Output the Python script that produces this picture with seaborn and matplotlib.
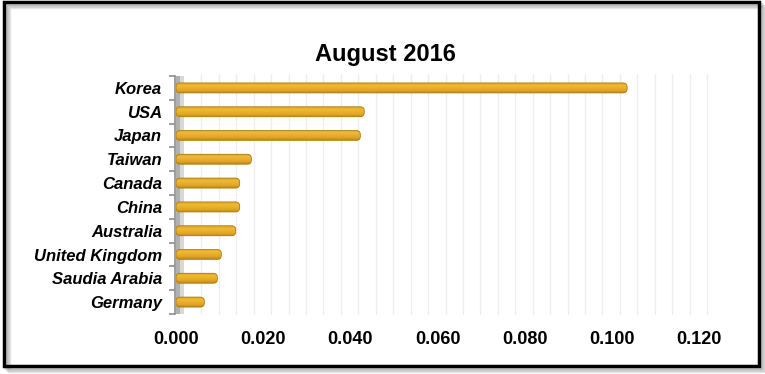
import numpy as np
import pandas as pd
import matplotlib
matplotlib.use("Agg")
import matplotlib.pyplot as plt
import matplotlib.transforms as mtransforms
from matplotlib.patches import Rectangle, FancyBboxPatch
import seaborn as sns

# ---- data ----
countries = ["Korea", "USA", "Japan", "Taiwan", "Canada", "China",
             "Australia", "United Kingdom", "Saudia Arabia", "Germany"]
values = [0.1035, 0.0432, 0.0423, 0.0173, 0.0146, 0.0146,
          0.0137, 0.0104, 0.0095, 0.0065]
x_ticks = [0.000, 0.020, 0.040, 0.060, 0.080, 0.100, 0.120]
x_tick_labels = ["0.000", "0.020", "0.040", "0.060", "0.080", "0.100", "0.120"]
title = "August 2016"

df = pd.DataFrame({"country": countries, "value": values})

sns.set_theme(style="white")
plt.rcParams["font.family"] = ["Liberation Sans", "DejaVu Sans"]

W, H = 765, 374
fig = plt.figure(figsize=(W / 100, H / 100), dpi=100)
fig.patch.set_facecolor("white")

# axes placement in pixels
ax_left, ax_right = 176, 699
ax_top, ax_bottom = 76, 314
ax_w_px, ax_h_px = ax_right - ax_left, ax_bottom - ax_top
ax = fig.add_axes([ax_left / W, 1 - ax_bottom / H, ax_w_px / W, ax_h_px / H])
ax.set_facecolor("white")

sns.barplot(data=df, x="value", y="country", orient="h", color="#E3AB28",
            width=0.42, ax=ax, zorder=3, linewidth=0)

ax.set_xlim(x_ticks[0], x_ticks[-1])
ylim = ax.get_ylim()

# bar shading: gradient, rounded caps
grad_colors = np.array([
    [0.86, 0.64, 0.14],
    [0.94, 0.73, 0.21],
    [0.91, 0.69, 0.17],
    [0.88, 0.65, 0.14],
    [0.74, 0.53, 0.09],
])
n = 40
t = np.linspace(0, 1, n)
idx = np.arange(len(grad_colors))
img = np.stack([np.interp(t * (len(grad_colors) - 1), idx, grad_colors[:, c]) for c in range(3)], axis=-1)
img = img[:, None, :]
x_per_px = (x_ticks[-1] - x_ticks[0]) / ax_w_px
y_per_px = abs(ylim[0] - ylim[1]) / ax_h_px
asp = y_per_px / x_per_px
for p in list(ax.patches):
    x0, y0, w, h = p.get_x(), p.get_y(), p.get_width(), p.get_height()
    shape = FancyBboxPatch((x0, y0), w, h,
                           boxstyle=f"round,pad=0,rounding_size={4.2 * x_per_px}",
                           mutation_aspect=asp, transform=ax.transData,
                           facecolor="none", edgecolor="#B07F12", lw=0.6, zorder=5)
    ax.add_patch(shape)
    p.set_clip_path(shape)
    im = ax.imshow(img, extent=(x0, x0 + w, y0 + h, y0), origin="upper",
                   aspect="auto", zorder=4, interpolation="bilinear")
    im.set_clip_path(shape)
ax.set_ylim(ylim)
ax.set_xlim(x_ticks[0], x_ticks[-1])

# light vertical gridlines (back wall, offset for 3D look)
off = mtransforms.ScaledTranslation(8 / 100, 0, fig.dpi_scale_trans)
gtrans = ax.get_xaxis_transform() + off
step = (x_ticks[1] - x_ticks[0]) / 5
for k in range(1, 31):
    ax.plot([k * step, k * step], [0, 1.01], color="#eeeeee", lw=1.0, zorder=1,
            transform=gtrans, clip_on=False)

# 3D side wall (behind bars)
ax.add_patch(Rectangle((0, 0), 4 / ax_w_px, 1.0, transform=ax.transAxes,
                       facecolor="#b0b0b0", edgecolor="none", zorder=2))
ax.add_patch(Rectangle((4 / ax_w_px, 0), 4 / ax_w_px, 1.0, transform=ax.transAxes,
                       facecolor="#d8d8d8", edgecolor="none", zorder=2))

# axes styling
for s in ["top", "right", "bottom"]:
    ax.spines[s].set_visible(False)
ax.spines["left"].set_color("#8c8c8c")
ax.spines["left"].set_linewidth(1.2)
ax.spines["left"].set_position(("outward", 1))

ax.set_xticks(x_ticks)
ax.set_xticklabels(x_tick_labels, fontsize=13, fontweight="bold", color="black")
ax.tick_params(axis="x", length=0, pad=12)
ax.set_yticks(range(len(countries)))
ax.set_yticklabels(countries, fontsize=12, fontweight="bold", fontstyle="italic", color="black")
ax.tick_params(axis="y", which="major", length=0, pad=9)
ax.set_yticks(np.arange(-0.5, len(countries), 1.0), minor=True)
ax.tick_params(axis="y", which="minor", length=4, width=1.2, color="#8c8c8c", direction="out", left=True)
ax.set_xlabel("")
ax.set_ylabel("")
ax.grid(False)

# title
fig.text(385 / W, 1 - 55 / H, title, ha="center", va="center",
         fontsize=17, fontweight="bold", color="black")

# frame with drop shadow
for i, a in enumerate([0.10, 0.16, 0.24]):
    d = 5 - i * 1.3
    fig.patches.append(Rectangle(((4 + d) / W, (8 - d) / H), 755 / W, 364 / H,
                                 transform=fig.transFigure, facecolor="none",
                                 edgecolor=(0.3, 0.3, 0.3, a), lw=2.5, zorder=0))
fig.patches.append(Rectangle((4 / W, 8 / H), 755 / W, 364 / H,
                             transform=fig.transFigure, facecolor="none",
                             edgecolor="black", lw=2.5, zorder=10))

fig.savefig("out.png", dpi=100, facecolor="white")
